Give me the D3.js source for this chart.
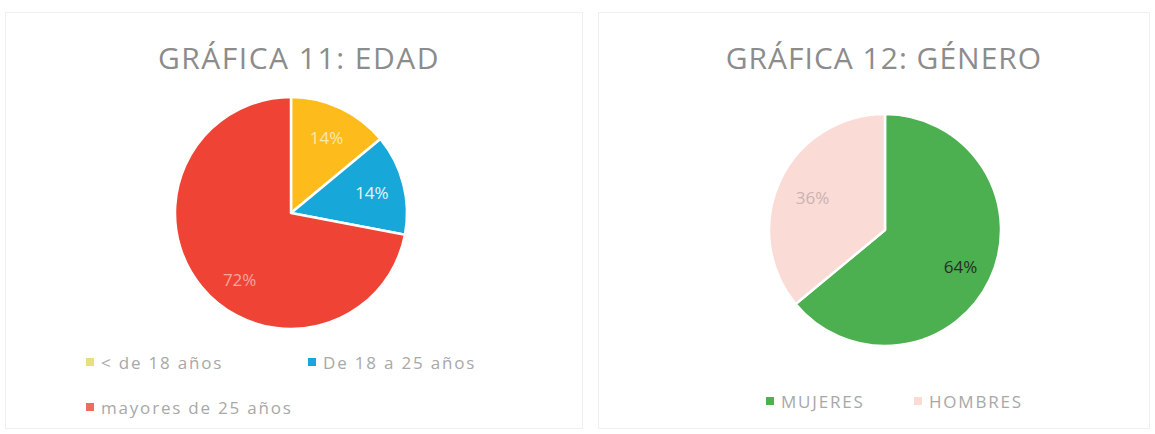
<!DOCTYPE html>
<html><head><meta charset="utf-8">
<script src="https://cdn.jsdelivr.net/npm/d3@7"></script>
<style>body{margin:0;background:#fff}svg{display:block}</style>
</head><body>
<svg id="c" width="1155" height="434"></svg>
<script>
const edadCategories = ["< de 18 años", "De 18 a 25 años", "mayores de 25 años"];
const edadValues = [14, 14, 72];
const edadLabels = ["14%", "14%", "72%"];
const generoCategories = ["MUJERES", "HOMBRES"];
const generoValues = [64, 36];
const generoLabels = ["64%", "36%"];
const titles = ["GRÁFICA 11: EDAD", "GRÁFICA 12: GÉNERO"];

const svg = d3.select("#c");
const font = "'Open Sans', 'Noto Sans', sans-serif";

// panels
svg.append("rect").attr("x",5.5).attr("y",12.5).attr("width",577).attr("height",416)
  .attr("fill","#fff").attr("stroke","#f0f0f0");
svg.append("rect").attr("x",598.5).attr("y",12.5).attr("width",551).attr("height",416)
  .attr("fill","#fff").attr("stroke","#f0f0f0");

function drawPie(cfg){
  const g = svg.append("g").attr("transform",`translate(${cfg.cx},${cfg.cy})`);
  const pie = d3.pie().sort(null).value(d=>d)(cfg.values);
  const arc = d3.arc().innerRadius(0).outerRadius(cfg.r);
  const color = d3.scaleOrdinal().domain(d3.range(cfg.values.length)).range(cfg.colors);
  g.selectAll("path").data(pie).join("path")
    .attr("d",arc).attr("fill",(d,i)=>color(i))
    .attr("stroke","#fff").attr("stroke-width",2.5).attr("stroke-linejoin","round");
  const la = d3.arc().innerRadius(cfg.r*cfg.labelR).outerRadius(cfg.r*cfg.labelR);
  g.selectAll("text").data(pie).join("text")
    .attr("transform",(d,i)=>{const c=la.centroid(d);return `translate(${c[0]+cfg.labelDx[i]},${c[1]+cfg.labelDy[i]})`;})
    .attr("text-anchor","middle").attr("dominant-baseline","central")
    .attr("font-family",font).attr("font-size",17)
    .attr("fill",(d,i)=>cfg.labelColors[i])
    .text((d,i)=>cfg.labels[i]);
}

drawPie({cx:291,cy:213,r:116,values:edadValues,labels:edadLabels,
  colors:["#FDBB1C","#18A7D9","#EE4335"],
  labelColors:["#FBE9B0","#E6F5FB","#F7A79C"],
  labelR:0.72,labelDx:[0,0,13],labelDy:[0,0,13]});
drawPie({cx:885,cy:230,r:116,values:generoValues,labels:generoLabels,
  colors:["#4CAF50","#FADBD6"],
  labelColors:["#2b2b2b","#c9b3b0"],
  labelR:0.7,labelDx:[2,1],labelDy:[2,2]});

// titles
svg.append("text").attr("x",299).attr("y",69).attr("text-anchor","middle")
  .attr("font-family",font).attr("font-size",30).attr("fill","#8c8c8c")
  .attr("letter-spacing",1.5).text(titles[0]);
svg.append("text").attr("x",884).attr("y",69).attr("text-anchor","middle")
  .attr("font-family",font).attr("font-size",30).attr("fill","#8c8c8c")
  .attr("letter-spacing",1).text(titles[1]);

// legends
function legendItem(x,y,color,label){
  svg.append("rect").attr("x",x).attr("y",y-4).attr("width",8).attr("height",8).attr("fill",color);
  svg.append("text").attr("x",x+15).attr("y",y).attr("dominant-baseline","central")
    .attr("font-family",font).attr("font-size",17).attr("fill","#a8a8a8")
    .attr("letter-spacing",1.8).text(label);
}
const edadColors = ["#E8E07A","#18A7D9","#EE6B5E"];
legendItem(86,362,edadColors[0],edadCategories[0]);
legendItem(308,362,edadColors[1],edadCategories[1]);
legendItem(86,407,edadColors[2],edadCategories[2]);
legendItem(766,401,"#4CAF50",generoCategories[0]);
legendItem(914,401,"#FADBD6",generoCategories[1]);
</script>
</body></html>
